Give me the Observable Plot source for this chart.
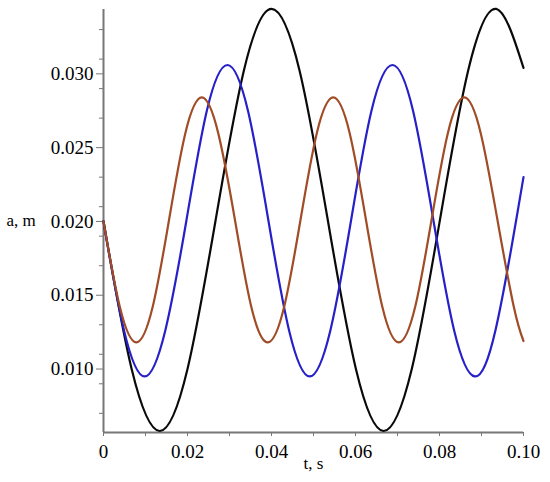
<!DOCTYPE html>
<html>
<head>
<meta charset="utf-8">
<script src="https://cdn.jsdelivr.net/npm/d3@7"></script>
<script src="https://cdn.jsdelivr.net/npm/@observablehq/plot@0.6"></script>
<style>
  html, body { margin: 0; padding: 0; background: #fff; }
  #chart svg { display: block; background: #fff; }
</style>
</head>
<body>
<div id="chart"></div>
<script>
// Values (t in s, a in m)
const blackT = [0, 0.0067, 0.0134, 0.0200, 0.0267, 0.0334, 0.0400, 0.0467, 0.0534, 0.0601, 0.0667, 0.0734, 0.0801, 0.0868, 0.0935, 0.1000];
const blackA = [0.0200, 0.0100, 0.0058, 0.0100, 0.0201, 0.0302, 0.0344, 0.0302, 0.0201, 0.0100, 0.0058, 0.0100, 0.0201, 0.0302, 0.0344, 0.0304];

const blueT = [0, 0.0049, 0.0098, 0.0147, 0.0197, 0.0246, 0.0295, 0.0344, 0.0393, 0.0442, 0.0491, 0.0540, 0.0589, 0.0638, 0.0688, 0.0737, 0.0786, 0.0835, 0.0884, 0.0933, 0.0982, 0.1000];
const blueA = [0.0200, 0.0126, 0.0095, 0.0126, 0.0200, 0.0275, 0.0306, 0.0275, 0.0200, 0.0126, 0.0095, 0.0126, 0.0200, 0.0275, 0.0306, 0.0275, 0.0200, 0.0126, 0.0095, 0.0126, 0.0200, 0.0230];

const redT = [0, 0.0039, 0.0078, 0.0117, 0.0156, 0.0195, 0.0234, 0.0273, 0.0313, 0.0352, 0.0391, 0.0430, 0.0469, 0.0508, 0.0547, 0.0586, 0.0625, 0.0664, 0.0703, 0.0742, 0.0781, 0.0820, 0.0859, 0.0898, 0.0938, 0.0977, 0.1000];
const redA = [0.0200, 0.0142, 0.0118, 0.0142, 0.0201, 0.0260, 0.0284, 0.0260, 0.0201, 0.0142, 0.0118, 0.0142, 0.0201, 0.0260, 0.0284, 0.0260, 0.0201, 0.0142, 0.0118, 0.0142, 0.0201, 0.0260, 0.0284, 0.0260, 0.0201, 0.0142, 0.0119];

const seriesNames = ["s1", "s2", "s3"];
const seriesColors = ["#0a0a0a", "#2620c8", "#a04c26"];

const xTicks = [0, 0.01, 0.02, 0.03, 0.04, 0.05, 0.06, 0.07, 0.08, 0.09, 0.10];
const xLabels = [0, 0.02, 0.04, 0.06, 0.08, 0.10];
const yMinorTicks = [0.007, 0.009, 0.011, 0.013, 0.017, 0.019, 0.021, 0.023, 0.027, 0.029, 0.031, 0.033];
const yLabels = [0.010, 0.015, 0.020, 0.025, 0.030];
const xTitle = "t, s";
const yTitle = "a, m";

const toRows = (T, A, name) => T.map((t, i) => ({t, a: A[i], name}));
const rows = [
  ...toRows(blackT, blackA, seriesNames[0]),
  ...toRows(blueT, blueA, seriesNames[1]),
  ...toRows(redT, redA, seriesNames[2])
];

const yMin = 0.0057, yMax = 0.03436;

const chart = Plot.plot({
  width: 550,
  height: 482,
  marginLeft: 103,
  marginRight: 27,
  marginTop: 9,
  marginBottom: 50,
  style: {fontFamily: "'Liberation Serif', 'Times New Roman', serif", fontSize: "19px"},
  x: {domain: [0, 0.1], label: null},
  y: {domain: [yMin, yMax], label: null},
  color: {domain: seriesNames, range: seriesColors},
  marks: [
    Plot.axisX(xTicks, {tickSize: 4, text: null, stroke: "#777", label: null}),
    Plot.axisX(xLabels, {tickSize: 0, tickPadding: 12, tickFormat: d => d === 0 ? "0" : d.toFixed(2), fontSize: 19, label: null}),
    Plot.axisY(yMinorTicks, {tickSize: 4, text: null, stroke: "#777", label: null}),
    Plot.axisY(yLabels, {tickSize: 7, tickPadding: 3, tickFormat: d => d.toFixed(3), fontSize: 19, stroke: "#777", label: null}),
    Plot.ruleX([0], {stroke: "#777", strokeWidth: 2}),
    Plot.ruleY([yMin], {stroke: "#777", strokeWidth: 2}),
    Plot.line(rows, {x: "t", y: "a", z: "name", stroke: "name", strokeWidth: 2.2, curve: "natural"}),
    Plot.text([yTitle], {frameAnchor: "left", dx: -97, textAnchor: "start", fontSize: 17}),
    Plot.text([xTitle], {frameAnchor: "bottom", dy: 36, fontSize: 17})
  ]
});
document.getElementById("chart").append(chart);
</script>
</body>
</html>
